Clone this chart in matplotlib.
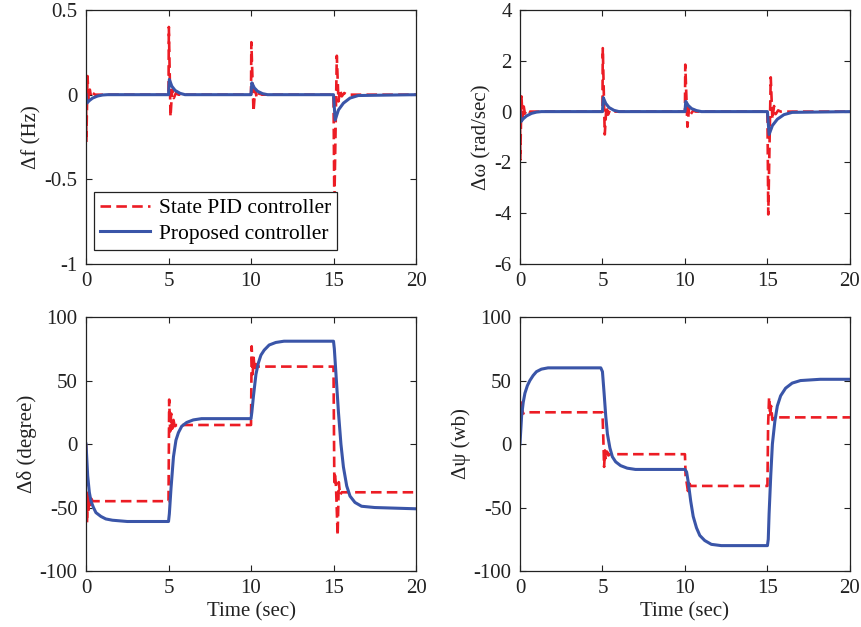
import numpy as np
import matplotlib
matplotlib.use("Agg")
import matplotlib.pyplot as plt

plt.rcParams['font.family'] = ['Liberation Serif', 'DejaVu Serif']
plt.rcParams['axes.unicode_minus'] = False

RED = '#ec1c24'
BLUE = '#3a55a8'

# ---- data (time in sec) ----
# delta f (Hz)
f_pid_t = [0, 0.02, 0.09, 0.16, 0.23, 0.30, 0.40, 0.55, 5.0,
           5.02, 5.12, 5.22, 5.32, 5.45, 5.6, 10.0,
           10.02, 10.15, 10.25, 10.35, 10.5, 10.65, 15.0,
           15.05, 15.2, 15.3, 15.4, 15.5, 15.65, 15.8, 20.0]
f_pid_y = [0, -0.28, 0.11, -0.03, 0.03, -0.01, 0.01, 0, 0,
           0.40, -0.13, 0.03, -0.02, 0.01, 0, 0,
           0.31, -0.10, 0.03, -0.02, 0.01, 0, 0,
           -0.65, 0.23, -0.04, 0.03, -0.01, 0.01, 0, 0]
f_pro_t = [0, 0.05, 0.2, 0.4, 0.7, 1.0, 1.3, 5.0,
           5.05, 5.2, 5.4, 5.7, 6.0, 10.0,
           10.05, 10.2, 10.4, 10.7, 11.0, 15.0,
           15.1, 15.3, 15.6, 16.0, 16.5, 20.0]
f_pro_y = [0, -0.05, -0.035, -0.02, -0.008, -0.002, 0, 0,
           0.09, 0.05, 0.025, 0.008, 0, 0,
           0.07, 0.04, 0.02, 0.006, 0, 0,
           -0.15, -0.09, -0.05, -0.02, -0.005, 0]

# delta omega (rad/sec)
w_pid_t = [0, 0.02, 0.09, 0.16, 0.23, 0.30, 0.40, 0.55, 5.0,
           5.02, 5.14, 5.24, 5.34, 5.45, 5.6, 10.0,
           10.02, 10.15, 10.25, 10.35, 10.5, 10.65, 15.0,
           15.05, 15.2, 15.3, 15.4, 15.5, 15.65, 15.8, 20.0]
w_pid_y = [0, -1.9, 0.6, -0.25, 0.2, -0.08, 0.05, 0, 0,
           2.5, -0.9, 0.2, -0.12, 0.05, 0, 0,
           1.85, -0.6, 0.15, -0.1, 0.04, 0, 0,
           -4.05, 1.35, -0.3, 0.22, -0.1, 0.05, 0, 0]
w_pro_t = [0, 0.05, 0.2, 0.4, 0.7, 1.0, 1.3, 5.0,
           5.05, 5.2, 5.4, 5.7, 6.0, 10.0,
           10.05, 10.2, 10.4, 10.7, 11.0, 15.0,
           15.1, 15.3, 15.6, 16.0, 16.5, 20.0]
w_pro_y = [0, -0.4, -0.28, -0.17, -0.07, -0.02, 0, 0,
           0.55, 0.32, 0.16, 0.05, 0, 0,
           0.4, 0.24, 0.12, 0.04, 0, 0,
           -0.9, -0.55, -0.3, -0.12, -0.03, 0]

# delta delta (degree)
d_pid_t = [0, 0.03, 0.06, 0.1, 0.15, 0.2, 0.25, 0.32, 0.4, 5.0,
           5.04, 5.1, 5.16, 5.22, 5.3, 5.38, 5.5, 10.0,
           10.04, 10.1, 10.16, 10.22, 10.3, 10.4, 15.0,
           15.05, 15.1, 15.15, 15.25, 15.32, 15.4, 15.5, 20.0]
d_pid_y = [0, -30, -62, -38, -52, -40, -48, -43, -45, -45,
           35, 10, 24, 12, 19, 14, 15, 15,
           77, 55, 68, 58, 63, 61, 61,
           -30, -25, -33, -72, -30, -40, -38, -38]
d_pro_t = [0, 0.1, 0.2, 0.3, 0.45, 0.6, 0.9, 1.2, 1.6, 2.5, 5.0,
           5.05, 5.15, 5.3, 5.45, 5.6, 5.8, 6.1, 6.5, 7.0, 10.0,
           10.05, 10.15, 10.3, 10.45, 10.6, 10.8, 11.1, 11.5, 12.0, 15.0,
           15.05, 15.15, 15.3, 15.45, 15.6, 15.8, 16.0, 16.3, 16.7, 17.5, 20.0]
d_pro_y = [0, -25, -38, -45, -50, -54, -57, -59, -60, -61, -61,
           -55, -35, -10, 3, 9, 14, 17, 19, 20, 20,
           25, 38, 55, 64, 70, 74, 78, 80, 81, 81,
           75, 55, 25, 0, -18, -33, -41, -46, -49, -50, -51]

# delta psi (wb)
p_pid_t = [0, 0.04, 0.08, 0.12, 0.2, 0.3, 5.0,
           5.04, 5.1, 5.15, 5.2, 5.28, 5.36, 5.45, 10.0,
           10.04, 10.1, 10.18, 10.26, 10.35, 15.0,
           15.04, 15.1, 15.16, 15.22, 15.3, 15.4, 20.0]
p_pid_y = [20, 33, 22, 27, 24, 25, 25,
           10, -18, -5, -12, -6, -9, -8, -8,
           -25, -30, -37, -31, -33, -33,
           15, 37, 22, 30, 19, 21, 21]
p_pro_t = [0, 0.1, 0.2, 0.3, 0.45, 0.6, 0.8, 1.0, 1.3, 1.7, 4.9, 5.0,
           5.1, 5.2, 5.3, 5.45, 5.6, 5.8, 6.1, 6.5, 7.0, 10.0,
           10.1, 10.2, 10.35, 10.5, 10.7, 10.9, 11.2, 11.6, 12.2, 15.0,
           15.05, 15.1, 15.2, 15.3, 15.45, 15.6, 15.8, 16.1, 16.5, 17.0, 18.2, 20.0]
p_pro_y = [0, 22, 33, 40, 46, 50, 54, 57, 59, 60, 60, 57,
           40, 22, 8, -3, -10, -14, -17, -19, -20, -20,
           -22, -30, -45, -57, -66, -72, -76, -79, -80, -80,
           -75, -55, -25, 0, 18, 30, 38, 44, 48, 50, 51, 51]

panels = [
    (f_pid_t, f_pid_y, f_pro_t, f_pro_y, 'Δf (Hz)', (-1, 0.5), [-1, -0.5, 0, 0.5]),
    (w_pid_t, w_pid_y, w_pro_t, w_pro_y, 'Δω (rad/sec)', (-6, 4), [-6, -4, -2, 0, 2, 4]),
    (d_pid_t, d_pid_y, d_pro_t, d_pro_y, 'Δδ (degree)', (-100, 100), [-100, -50, 0, 50, 100]),
    (p_pid_t, p_pid_y, p_pro_t, p_pro_y, 'Δψ (wb)', (-100, 100), [-100, -50, 0, 50, 100]),
]

positions = [
    [0.0998, 0.579, 0.3828, 0.405],
    [0.6032, 0.579, 0.3828, 0.405],
    [0.0998, 0.0893, 0.3828, 0.405],
    [0.6032, 0.0893, 0.3828, 0.405],
]

fig = plt.figure(figsize=(8.62, 6.27), dpi=100)

tick_labels = {-1: '-1', -0.5: '-0.5', 0: '0', 0.5: '0.5'}

for k, (pt, py, qt, qy, lab, ylim, yt) in enumerate(panels):
    ax = fig.add_axes(positions[k])
    ax.plot(pt, py, '--', color=RED, lw=1.9, dashes=(4, 2), label='State PID controller')
    ax.plot(qt, qy, '-', color=BLUE, lw=2.2, label='Proposed controller')
    ax.set_xlim(0, 20)
    ax.set_ylim(*ylim)
    ax.set_xticks([0, 5, 10, 15, 20])
    ax.set_yticks(yt)
    if k == 0:
        ax.set_yticklabels([tick_labels[v] for v in yt])
    ax.tick_params(direction='in', top=True, right=True, labelsize=15,
                   length=4, width=0.8, colors='#222222', pad=6)
    ax.set_ylabel(lab, fontsize=15, labelpad=2, color='#222222')
    if k >= 2:
        ax.set_xlabel('Time (sec)', fontsize=15, labelpad=3, color='#222222')
    for s in ax.spines.values():
        s.set_linewidth(0.9)
        s.set_color('#222222')
    if k == 0:
        leg = ax.legend(loc='lower left', bbox_to_anchor=(0.024, 0.055), fontsize=15.5,
                        frameon=True, fancybox=False, framealpha=1,
                        edgecolor='#222222', handlelength=2.3, borderpad=0.3,
                        labelspacing=0.25, handletextpad=0.4, borderaxespad=0)
        leg.get_frame().set_linewidth(0.9)

fig.savefig('out.png', dpi=100)
